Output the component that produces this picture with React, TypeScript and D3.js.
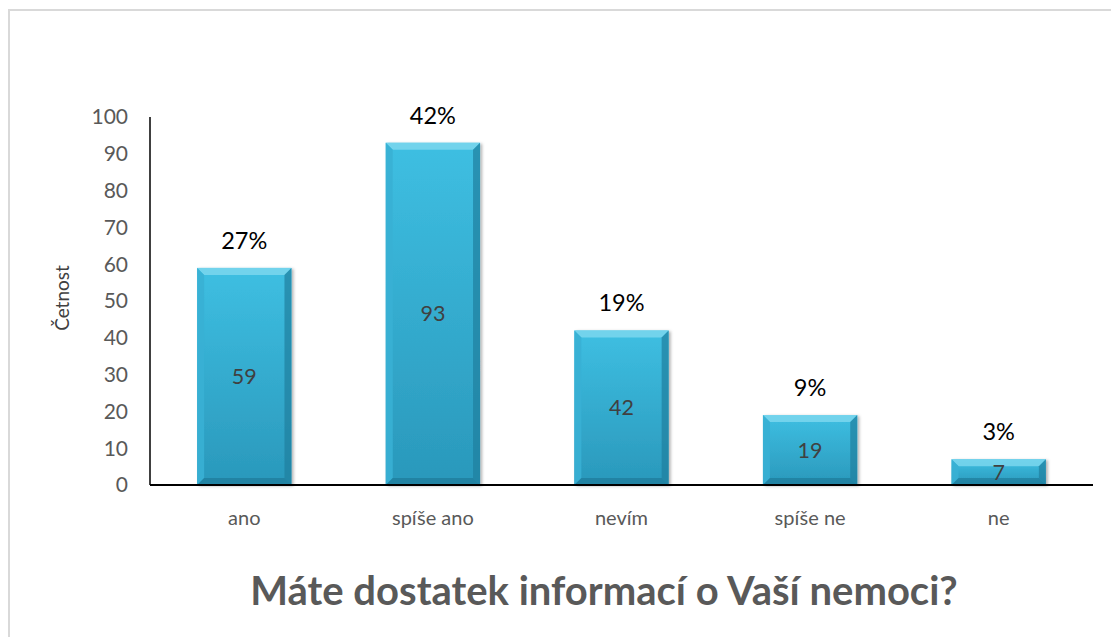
import React from "react";
import * as d3 from "d3";

const categories = ["ano", "spíše ano", "nevím", "spíše ne", "ne"];
const counts = [59, 93, 42, 19, 7];
const percentLabels = ["27%", "42%", "19%", "9%", "3%"];
const yTicks = [0, 10, 20, 30, 40, 50, 60, 70, 80, 90, 100];
const title = "Máte dostatek informací o Vaší nemoci?";
const yTitle = "Četnost";

const W = 1111;
const H = 637;
const FONT = "Lato, 'Open Sans', sans-serif";

export default function App() {
  const x = d3.scaleBand<string>().domain(categories).range([150, 1093]).paddingInner(0.5).paddingOuter(0.25);
  const y = d3.scaleLinear().domain([0, 100]).range([485, 117]);
  const bw = x.bandwidth();
  const b = 7;

  return (
    <svg width={W} height={H} style={{ position: "absolute", left: 0, top: 0, background: "#fff" }}>
      <defs>
        <linearGradient id="barGrad" x1="0" y1="0" x2="0" y2="1">
          <stop offset="0" stopColor="#3ebfe2" />
          <stop offset="1" stopColor="#2a98bb" />
        </linearGradient>
        <filter id="shadow" x="-10%" y="-10%" width="130%" height="130%">
          <feDropShadow dx="2" dy="1" stdDeviation="1.5" floodColor="#000" floodOpacity="0.3" />
        </filter>
      </defs>
      <rect x={9} y={10} width={W} height={H} fill="#fff" stroke="#d9d9d9" strokeWidth={2} />
      <line x1={150} x2={150} y1={117} y2={485} stroke="#000" strokeWidth={1.5} />
      {yTicks.map((t) => (
        <text key={t} x={128} y={y(t)} dy="0.35em" textAnchor="end" fontFamily={FONT} fontSize={21} fill="#595959">
          {t}
        </text>
      ))}
      <text
        transform={`translate(69,${298}) rotate(-90)`}
        textAnchor="middle"
        fontFamily={FONT}
        fontSize={19}
        fill="#404040"
      >
        {yTitle}
      </text>
      {categories.map((c, i) => {
        const x0 = x(c)!;
        const x1 = x0 + bw;
        const y0 = y(counts[i]);
        const y1 = y(0);
        const bb = Math.min(b, (y1 - y0) / 2);
        return (
          <g key={c}>
            <rect x={x0} y={y0} width={bw} height={y1 - y0} fill="url(#barGrad)" filter="url(#shadow)" />
            <polygon points={`${x0},${y0} ${x1},${y0} ${x1 - bb},${y0 + bb} ${x0 + bb},${y0 + bb}`} fill="#7fd8ef" opacity={0.8} />
            <polygon points={`${x0},${y0} ${x0 + bb},${y0 + bb} ${x0 + bb},${y1 - bb} ${x0},${y1}`} fill="#38b0d4" opacity={0.9} />
            <polygon points={`${x1},${y0} ${x1 - bb},${y0 + bb} ${x1 - bb},${y1 - bb} ${x1},${y1}`} fill="#1f7f9e" opacity={0.7} />
            <polygon points={`${x0},${y1} ${x0 + bb},${y1 - bb} ${x1 - bb},${y1 - bb} ${x1},${y1}`} fill="#1c7592" opacity={0.6} />
            <text x={x0 + bw / 2} y={(y0 + y1) / 2} dy="0.35em" textAnchor="middle" fontFamily={FONT} fontSize={21.5} fill="#404040">
              {counts[i]}
            </text>
            <text x={x0 + bw / 2} y={y0 - 19} textAnchor="middle" fontFamily={FONT} fontSize={23.5} fill="#000">
              {percentLabels[i]}
            </text>
            <text x={x0 + bw / 2} y={525} textAnchor="middle" fontFamily={FONT} fontSize={20} fill="#595959">
              {c}
            </text>
          </g>
        );
      })}
      <line x1={150} x2={1093} y1={485} y2={485} stroke="#000" strokeWidth={2} />
      <text x={604} y={605} textAnchor="middle" fontFamily={FONT} fontWeight="bold" fontSize={40} fill="#595959">
        {title}
      </text>
    </svg>
  );
}
